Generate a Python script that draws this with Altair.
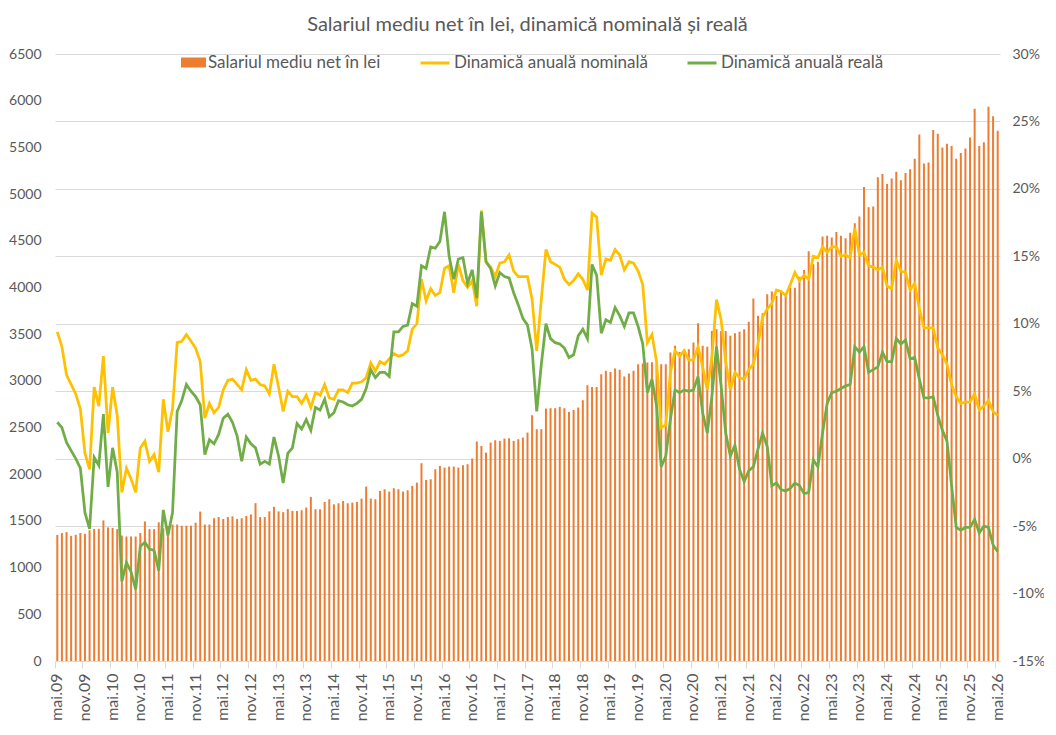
import altair as alt
import pandas as pd

# ---- categories (monthly, May 2009 - May 2026) ----
luni_ro = ["ian", "feb", "mar", "apr", "mai", "iun", "iul", "aug", "sep", "oct", "nov", "dec"]
luni = []
an, m = 2009, 4
for _ in range(205):
    luni.append(f"{luni_ro[m]}.{an % 100:02d}")
    m += 1
    if m == 12:
        m = 0
        an += 1
etichete_x = luni[::6]

# ---- Salariul mediu net (lei) ----
salariu = [
    1350, 1370, 1380, 1340, 1352, 1370, 1362, 1400, 1415, 1415,
    1505, 1430, 1425, 1412, 1343, 1333, 1333, 1333, 1370, 1495,
    1412, 1412, 1485, 1420, 1445, 1461, 1461, 1449, 1449, 1449,
    1481, 1600, 1461, 1461, 1529, 1541, 1521, 1541, 1549, 1521,
    1529, 1553, 1570, 1690, 1541, 1541, 1602, 1650, 1602, 1594,
    1627, 1607, 1607, 1614, 1643, 1757, 1625, 1625, 1703, 1732,
    1678, 1689, 1714, 1689, 1696, 1703, 1739, 1868, 1739, 1732,
    1821, 1839, 1814, 1850, 1839, 1814, 1828, 1875, 1910, 2118,
    1939, 1946, 2053, 2089, 2071, 2082, 2082, 2071, 2096, 2107,
    2168, 2350, 2303, 2232, 2339, 2364, 2357, 2382, 2385, 2357,
    2375, 2393, 2446, 2632, 2482, 2482, 2703, 2707, 2707, 2721,
    2707, 2668, 2689, 2714, 2793, 2953, 2935, 2935, 3071, 3107,
    3096, 3132, 3118, 3046, 3078, 3107, 3178, 3185, 3196, 3200,
    3178, 3178, 3178, 3303, 3375, 3310, 3339, 3339, 3410, 3617,
    3375, 3364, 3535, 3553, 3535, 3535, 3482, 3510, 3525, 3553,
    3632, 3882, 3696, 3725, 3928, 3956, 3908, 3968, 3908, 3996,
    3996, 4116, 4188, 4388, 4248, 4276, 4547, 4555, 4535, 4595,
    4555, 4527, 4587, 4687, 4759, 5075, 4859, 4867, 5179, 5215,
    5107, 5167, 5239, 5147, 5227, 5267, 5379, 5638, 5327, 5339,
    5686, 5646, 5499, 5539, 5515, 5379, 5439, 5487, 5606, 5914,
    5515, 5555, 5934, 5834, 5678,
]

# ---- Dinamica anuala nominala (%) ----
nominala = [
    9.4, 8.3, 6.2, 5.5, 4.8, 3.7, 0.4, -0.8, 5.3, 3.9,
    7.6, 1.9, 5.3, 3.2, -2.5, -0.7, -1.5, -2.5, 0.8, 1.3,
    -0.2, 0.3, -1.0, 4.4, 2.0, 3.7, 8.6, 8.7, 9.2, 8.7,
    8.2, 7.2, 3.0, 4.1, 3.4, 3.8, 5.1, 5.8, 5.9, 5.5,
    5.1, 6.6, 5.8, 5.9, 5.5, 5.4, 4.8, 7.0, 5.3, 3.5,
    5.0, 4.6, 4.6, 4.1, 4.7, 3.8, 4.9, 4.7, 5.5, 4.5,
    4.4, 5.1, 5.1, 4.9, 5.6, 5.6, 5.7, 6.0, 7.1, 6.5,
    7.2, 7.0, 7.4, 7.8, 7.6, 7.7, 8.0, 9.6, 10.0, 13.3,
    11.7, 12.6, 12.1, 12.3, 14.1, 14.3, 12.3, 14.4, 13.2, 12.7,
    13.2, 11.3, 18.4, 14.6, 14.2, 13.5, 14.5, 14.6, 15.1, 13.9,
    13.5, 13.5, 13.5, 11.8, 8.0, 11.8, 15.5, 14.6, 14.4, 14.2,
    13.3, 12.9, 13.2, 13.7, 13.3, 12.5, 18.2, 17.9, 13.6, 14.8,
    14.7, 15.5, 15.1, 14.0, 14.6, 14.5, 13.9, 12.9, 8.6, 9.2,
    7.2, 2.3, 2.5, 6.4, 8.0, 7.6, 8.0, 7.3, 7.3, 8.3,
    6.8, 5.1, 7.5, 11.8, 10.3, 7.2, 5.1, 6.4, 6.0, 5.9,
    6.6, 7.0, 8.5, 10.5, 11.1, 11.5, 12.5, 12.4, 12.1, 12.9,
    13.8, 13.2, 13.6, 13.3, 15.0, 14.9, 15.7, 15.3, 15.7, 15.7,
    15.0, 15.1, 14.9, 17.1, 15.1, 15.3, 14.3, 14.2, 14.0, 14.2,
    12.8, 12.6, 14.7, 13.9, 13.8, 12.5, 13.0, 11.1, 9.7, 9.7,
    9.7, 8.2, 7.7, 7.0, 5.5, 4.6, 4.1, 4.2, 4.2, 4.8,
    3.6, 3.9, 4.3, 3.5, 3.2,
]

# ---- Dinamica anuala reala (%) ----
reala = [
    2.7, 2.3, 1.2, 0.6, 0.0, -0.7, -4.0, -5.2, 0.1, -0.5,
    3.3, -2.1, 0.8, -1.0, -9.1, -7.7, -8.4, -9.7, -6.5, -6.2,
    -6.7, -6.8, -8.3, -3.8, -5.7, -4.0, 3.5, 4.3, 5.5, 5.0,
    4.6, 4.0, 0.3, 1.4, 1.1, 1.8, 3.0, 3.3, 2.7, 1.7,
    -0.2, 1.6, 1.1, 0.8, -0.4, -0.2, -0.4, 1.6, 0.2, -1.8,
    0.4, 0.8, 2.6, 2.2, 2.9, 2.1, 3.8, 3.6, 4.4, 3.1,
    3.4, 4.3, 4.2, 4.0, 3.9, 4.1, 4.4, 5.2, 6.6, 6.0,
    6.4, 6.4, 6.1, 9.4, 9.4, 9.8, 9.9, 11.5, 11.3, 14.3,
    14.1, 15.7, 15.6, 16.1, 18.3, 15.0, 13.3, 14.8, 14.9, 13.0,
    14.0, 11.9, 18.3, 14.6, 14.1, 12.8, 13.8, 13.5, 13.4, 12.3,
    11.4, 10.4, 9.9, 8.1, 3.5, 7.0, 10.0, 8.9, 8.6, 8.5,
    8.2, 7.5, 7.7, 9.1, 9.6, 8.9, 14.4, 13.6, 9.3, 10.3,
    10.1, 11.2, 10.6, 9.8, 10.8, 10.8, 9.8, 8.5, 4.9, 5.9,
    3.9, -0.6, 0.2, 2.9, 5.1, 4.9, 5.1, 5.0, 5.1, 6.1,
    3.4, 1.9, 4.6, 8.3, 5.4, 1.9, 0.2, 1.0, -0.8, -1.7,
    -0.9, -0.6, 0.7, 1.9, 0.9, -2.0, -1.8, -2.3, -2.4, -2.2,
    -1.8, -2.0, -2.6, -2.5, -0.1, -0.6, 1.9, 4.1, 4.9, 5.0,
    5.2, 5.4, 5.5, 8.3, 7.9, 8.3, 6.4, 6.6, 6.8, 7.9,
    7.2, 7.2, 8.9, 8.5, 8.8, 7.4, 7.5, 5.9, 4.5, 4.5,
    4.6, 3.2, 2.1, 1.3, -2.0, -5.1, -5.3, -5.1, -5.1, -4.5,
    -5.5, -5.0, -5.1, -6.4, -6.9,
]

assert len(salariu) == len(nominala) == len(reala) == len(luni) == 205

valori_stanga = list(range(0, 6501, 500))
valori_dreapta = [-15, -10, -5, 0, 5, 10, 15, 20, 25, 30]

N_BAR = "Salariul mediu net în lei"
N_NOM = "Dinamică anuală nominală"
N_REAL = "Dinamică anuală reală"

df = pd.DataFrame({
    "idx": list(range(205)),
    "luna": luni,
    "salariu": salariu,
    "nominala": nominala,
    "reala": reala,
})

TXT = "#595959"
FONT = "Lato"

x_enc = alt.X(
    "luna:O",
    sort=luni,
    scale=alt.Scale(paddingInner=0, paddingOuter=0),
    axis=alt.Axis(
        values=etichete_x, bandPosition=0, labelAngle=270, title=None,
        domainColor="#D9D9D9", tickColor="#D9D9D9", tickSize=7,
        labelFontSize=16, labelColor=TXT, labelPadding=5, grid=False,
    ),
)

bars = alt.Chart(df).transform_calculate(
    serie=f"'{N_BAR}'"
).mark_bar(size=2).encode(
    x=x_enc,
    y=alt.Y(
        "salariu:Q",
        scale=alt.Scale(domain=[0, 6500], nice=False),
        axis=alt.Axis(
            values=valori_stanga, format="d", grid=False, domain=False, ticks=False,
            title=None, labelPadding=14, labelFontSize=14, labelColor=TXT,
        ),
    ),
    fill=alt.Fill(
        "serie:N",
        scale=alt.Scale(domain=[N_BAR], range=["#ED7D31"]),
        legend=alt.Legend(
            orient="none", legendX=130, legendY=0, title=None,
            symbolType="M-2.5,-1H2.5V1H-2.5Z", symbolSize=100, symbolStrokeWidth=0,
            labelFontSize=17, labelColor=TXT, labelFont=FONT, labelOffset=6,
            labelLimit=0,
        ),
    ),
)

lines = alt.Chart(df).transform_fold(
    ["nominala", "reala"], as_=["k", "v"]
).transform_calculate(
    serie=f"datum.k == 'nominala' ? '{N_NOM}' : '{N_REAL}'"
).mark_line(strokeWidth=2.75).encode(
    x=alt.X("luna:O", sort=luni),
    y=alt.Y(
        "v:Q",
        scale=alt.Scale(domain=[-15, 30], nice=False, zero=False),
        axis=alt.Axis(
            orient="right", values=valori_dreapta, labelExpr="datum.value + '%'",
            grid=True, gridColor="#D9D9D9", gridWidth=1, domain=False, ticks=False,
            title=None, labelPadding=12, labelFontSize=14, labelColor=TXT,
        ),
    ),
    stroke=alt.Stroke(
        "serie:N",
        scale=alt.Scale(domain=[N_NOM, N_REAL], range=["#FFC000", "#70AD47"]),
        legend=alt.Legend(
            orient="none", legendX=364, legendY=-7, title=None, direction="horizontal",
            symbolType="stroke", symbolSize=841, symbolStrokeWidth=3,
            columnPadding=32, labelFontSize=17, labelColor=TXT, labelFont=FONT,
            labelOffset=3, labelLimit=0,
        ),
    ),
    order=alt.Order("idx:Q"),
)

chart = alt.layer(bars, lines).resolve_scale(
    y="independent"
).properties(
    width=945,
    height=607,
    padding={"left": 47, "top": 46, "right": 44, "bottom": 70},
    autosize=alt.AutoSizeParams(type="none"),
    title=alt.TitleParams(
        "Salariul mediu net în lei, dinamică nominală și reală",
        fontSize=20, font=FONT, fontWeight="normal", color=TXT,
        anchor="middle", offset=12,
    ),
).configure(font=FONT).configure_view(stroke=None)

chart.save("out.html", embed_options={"renderer": "svg", "actions": False})
